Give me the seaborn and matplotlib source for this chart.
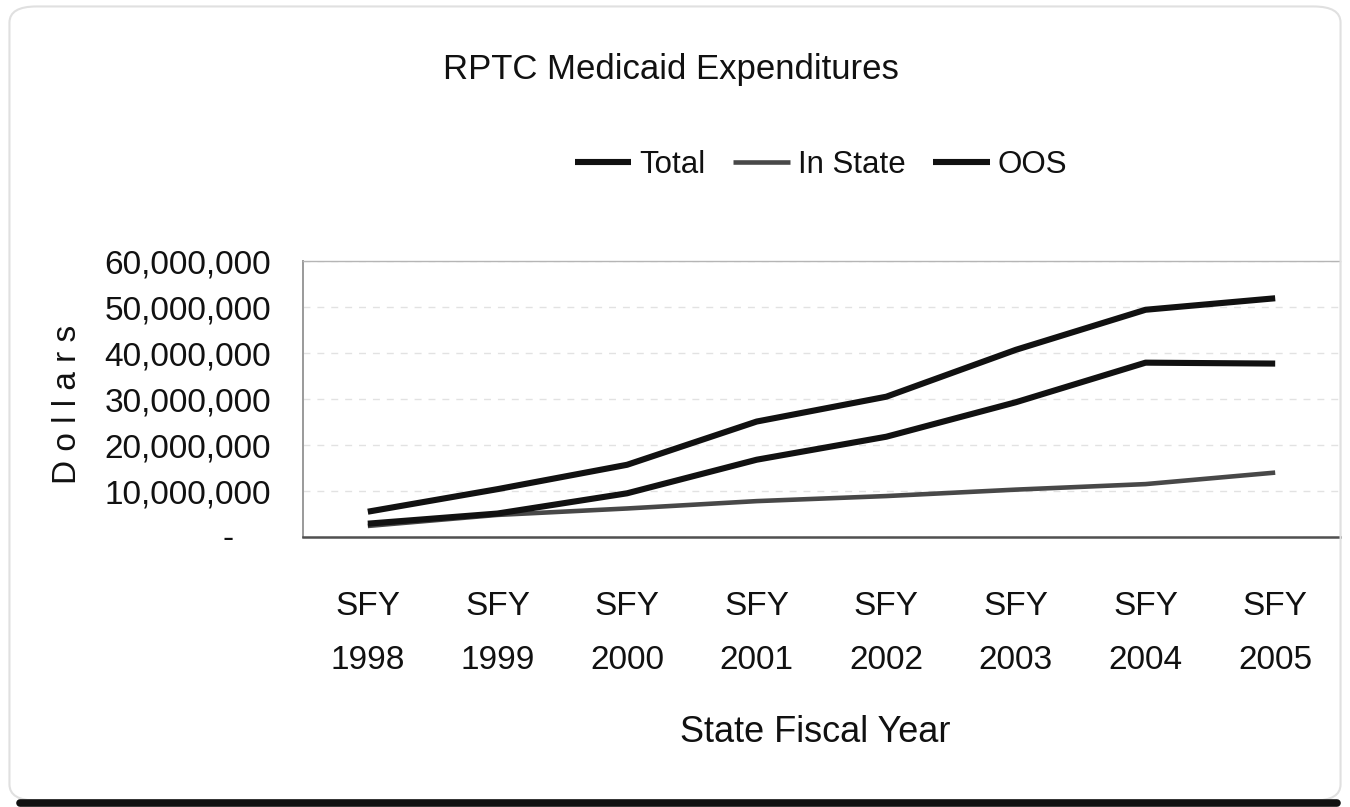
import matplotlib
matplotlib.use("Agg")
import matplotlib.pyplot as plt
import matplotlib.transforms as mtransforms
from matplotlib.patches import FancyBboxPatch
from matplotlib.lines import Line2D
import seaborn as sns
import pandas as pd

# RPTC Medicaid expenditures by state fiscal year (dollars)
years = ["SFY\n1998", "SFY\n1999", "SFY\n2000", "SFY\n2001",
         "SFY\n2002", "SFY\n2003", "SFY\n2004", "SFY\n2005"]
total = [5_500_000, 10_400_000, 15_700_000, 25_100_000,
         30_500_000, 40_700_000, 49_400_000, 51_900_000]
in_state = [2_400_000, 4_800_000, 6_200_000, 7_800_000,
            8_900_000, 10_300_000, 11_500_000, 14_000_000]
oos = [2_900_000, 5_100_000, 9_500_000, 16_800_000,
       21_800_000, 29_300_000, 37_900_000, 37_700_000]

series_names = ["Total", "In State", "OOS"]
y_ticks = [0, 10_000_000, 20_000_000, 30_000_000, 40_000_000, 50_000_000, 60_000_000]
y_tick_labels = ["", "10,000,000", "20,000,000", "30,000,000",
                 "40,000,000", "50,000,000", "60,000,000"]

sns.set_theme(style="white")
plt.rcParams["font.family"] = ["Liberation Sans", "DejaVu Sans"]
plt.rcParams["text.color"] = "#111111"
plt.rcParams["axes.labelcolor"] = "#111111"
plt.rcParams["xtick.color"] = "#111111"
plt.rcParams["ytick.color"] = "#111111"

df = pd.DataFrame({"year": years, "Total": total, "In State": in_state, "OOS": oos})
long_df = df.melt(id_vars="year", value_vars=series_names,
                  var_name="series", value_name="dollars")

W, H = 1350, 807
fig = plt.figure(figsize=(W / 100, H / 100), dpi=100)
fig.patch.set_facecolor("white")

ax = fig.add_axes([303 / W, 1 - 537 / H, 1037 / W, 276 / H])

palette = {"Total": "#111111", "In State": "#484848", "OOS": "#111111"}
widths = {"Total": 4.4, "In State": 3.3, "OOS": 4.4}
sns.lineplot(data=long_df, x="year", y="dollars", hue="series", size="series",
             hue_order=series_names, size_order=series_names,
             palette=palette, sizes=widths, sort=False, legend=False, ax=ax)
for ln in ax.lines:
    ln.set_solid_capstyle("butt")

ax.set_xlim(-0.5, len(years) - 0.5)
ax.set_ylim(0, 60_000_000)
ax.set_yticks(y_ticks)
ax.set_yticklabels(y_tick_labels)

ax.yaxis.grid(True, color="#e2e2e2", linestyle=(0, (5, 5)), linewidth=1.0)
ax.xaxis.grid(False)
ax.set_axisbelow(True)

for side, col, lw in [("left", "#9a9a9a", 1.4), ("bottom", "#505050", 1.8),
                      ("top", "#b5b5b5", 1.0), ("right", "#ececec", 1.0)]:
    ax.spines[side].set_visible(True)
    ax.spines[side].set_color(col)
    ax.spines[side].set_linewidth(lw)

ax.tick_params(axis="y", length=0, pad=23, labelsize=24)
ax.tick_params(axis="x", length=0, pad=39, labelsize=24)
for lbl in ax.get_xticklabels():
    lbl.set_linespacing(1.95)

# accounting-style dash for the zero value
zero_tr = mtransforms.blended_transform_factory(ax.transAxes, ax.transData)
ax.text(-0.072, -600_000, "-", transform=zero_tr, ha="center", va="center",
        fontsize=24, color="#111111")

ax.set_xlabel("State Fiscal Year", fontsize=26)
ax.xaxis.label.set_va("center")
ax.xaxis.set_label_coords(0.494, (537 - 732) / 276)
ax.set_ylabel("D o l l a r s", fontsize=24)
ax.yaxis.label.set_va("center")
ax.yaxis.set_label_coords((68 - 303) / 1037, 0.48)

fig.text(671 / W, 1 - 70 / H, "RPTC Medicaid Expenditures",
         ha="center", va="center", fontsize=25)

handles = ax.lines[:3]
fig.legend(handles, series_names, loc="center",
           bbox_to_anchor=(821 / W, 1 - 165 / H), ncol=3, frameon=False,
           fontsize=22.5, handlelength=1.8, handletextpad=0.25, columnspacing=0.9)

# chart-area border with rounded corners and heavy bottom edge
frame = FancyBboxPatch((0.007, 0.008), 0.986, 0.984,
                       boxstyle="round,pad=0,rounding_size=0.02",
                       transform=fig.transFigure, fill=False,
                       edgecolor="#e0e0e0", linewidth=1.5)
fig.patches.append(frame)
fig.lines.append(Line2D([0.015, 0.99], [0.0045, 0.0045], transform=fig.transFigure,
                        color="#111111", linewidth=5.5))

fig.savefig("out.png", dpi=100, facecolor="white")
